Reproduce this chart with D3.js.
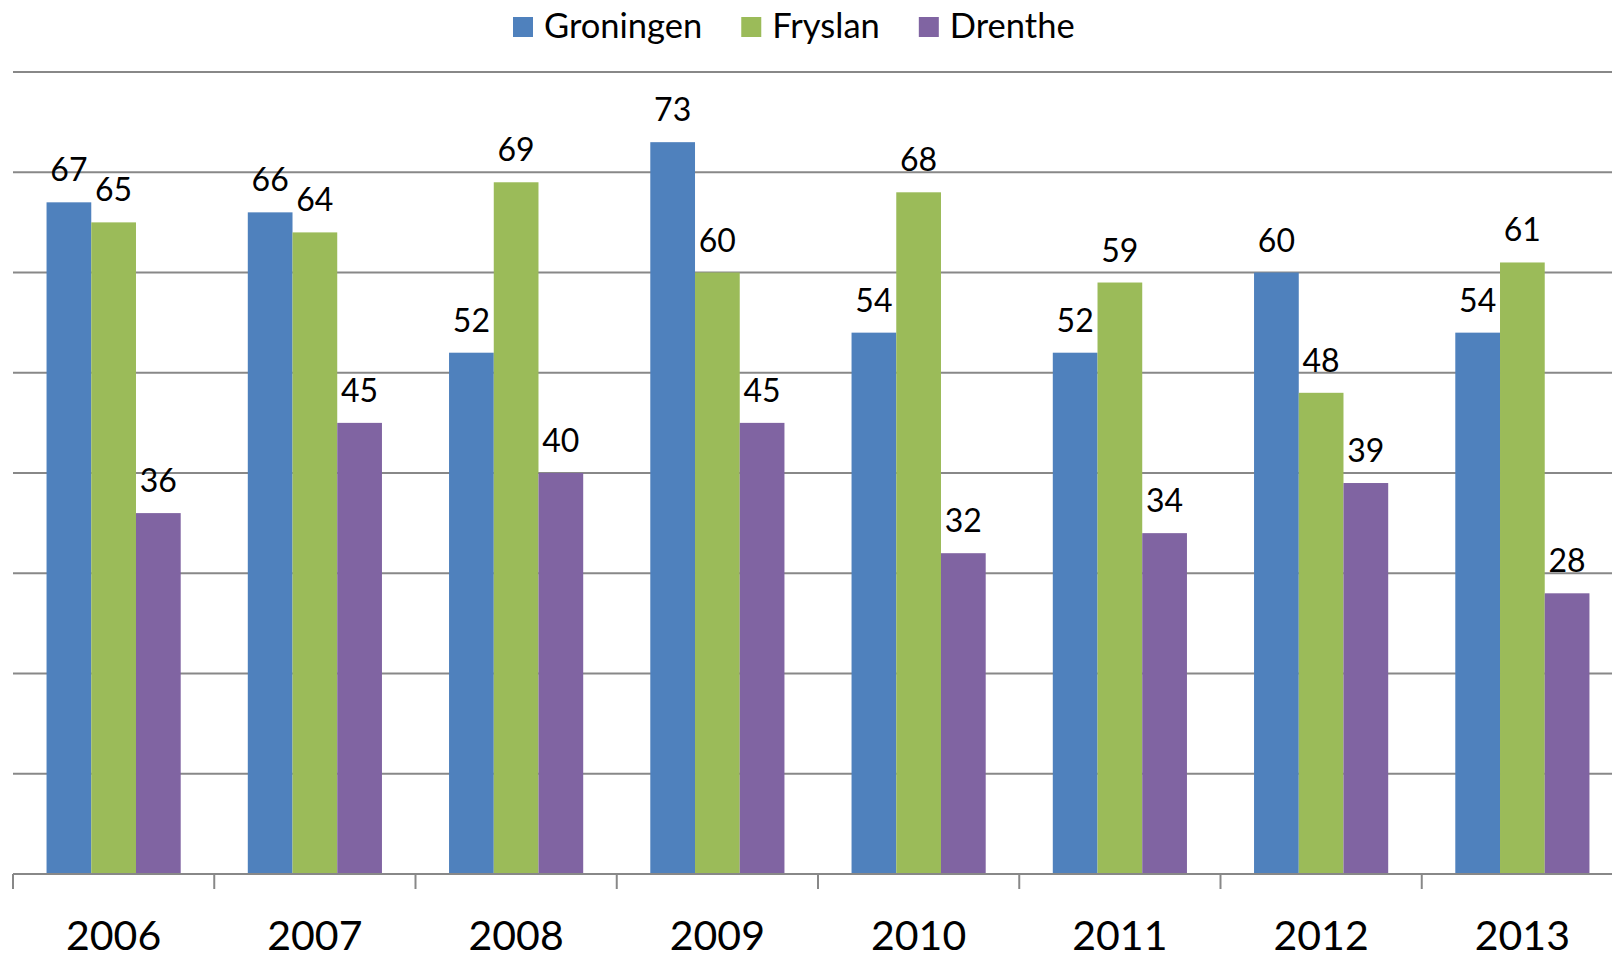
<!DOCTYPE html>
<html>
<head>
<meta charset="utf-8">
<script src="https://cdn.jsdelivr.net/npm/d3@7"></script>
<style>
  body { margin: 0; background: #fff; }
  text { font-family: Lato, "Open Sans", sans-serif; fill: #000; }
</style>
</head>
<body>
<script>
// chart data
const years = ["2006", "2007", "2008", "2009", "2010", "2011", "2012", "2013"];
const series = ["Groningen", "Fryslan", "Drenthe"];
const groningen = [67, 66, 52, 73, 54, 52, 60, 54];
const fryslan = [65, 64, 69, 60, 68, 59, 48, 61];
const drenthe = [36, 45, 40, 45, 32, 34, 39, 28];
const yTicks = [10, 20, 30, 40, 50, 60, 70, 80];

const colors = ["#4f81bd", "#9bbb59", "#8064a2"];
const values = [groningen, fryslan, drenthe];

const W = 1612, H = 956;
// plot area runs a bit past the right edge, like the original
const plotLeft = 13, plotRight = 1623, plotTop = 72, plotBottom = 874;

const svg = d3.select("body").append("svg")
    .attr("width", W)
    .attr("height", H);

const x0 = d3.scaleBand().domain(years).range([plotLeft, plotRight]).padding(0);
const x1 = d3.scaleBand().domain(series).range([0, x0.bandwidth()])
    .paddingInner(0).paddingOuter(0.75);
const y = d3.scaleLinear().domain([0, 80]).range([plotBottom, plotTop]);

// gridlines
svg.append("g").selectAll("line")
    .data(yTicks)
    .enter().append("line")
    .attr("x1", plotLeft).attr("x2", W)
    .attr("y1", d => y(d)).attr("y2", d => y(d))
    .attr("stroke", "#888").attr("stroke-width", 2);

// bars
const groups = svg.append("g").selectAll("g")
    .data(years)
    .enter().append("g")
    .attr("transform", d => "translate(" + x0(d) + ",0)");

groups.selectAll("rect")
    .data((d, i) => series.map((s, j) => ({ s: s, j: j, v: values[j][i] })))
    .enter().append("rect")
    .attr("x", d => x1(d.s))
    .attr("width", x1.bandwidth())
    .attr("y", d => y(d.v))
    .attr("height", d => y(0) - y(d.v))
    .attr("fill", d => colors[d.j]);

groups.selectAll("text")
    .data((d, i) => series.map((s, j) => ({ s: s, j: j, v: values[j][i] })))
    .enter().append("text")
    .attr("x", d => x1(d.s) + x1.bandwidth() / 2)
    .attr("y", d => y(d.v) - 21)
    .attr("text-anchor", "middle")
    .style("font-size", "32px")
    .text(d => d.v);

// x axis
const ax = svg.append("g")
    .attr("transform", "translate(0," + plotBottom + ")");
ax.append("line")
    .attr("x1", plotLeft).attr("x2", W)
    .attr("stroke", "#888").attr("stroke-width", 2);
ax.selectAll("line.tk")
    .data(years)
    .enter().append("line")
    .attr("class", "tk")
    .attr("x1", d => x0(d))
    .attr("x2", d => x0(d))
    .attr("y1", 0).attr("y2", 15)
    .attr("stroke", "#888").attr("stroke-width", 2);
ax.selectAll("text.yr")
    .data(years)
    .enter().append("text")
    .attr("class", "yr")
    .attr("x", d => x0(d) + x0.bandwidth() / 2)
    .attr("y", 76)
    .attr("text-anchor", "middle")
    .style("font-size", "41px")
    .text(d => d);

// legend
const legend = svg.append("g");
let lx = 513;
series.forEach((s, j) => {
    legend.append("rect")
        .attr("x", lx).attr("y", 17)
        .attr("width", 20).attr("height", 20)
        .attr("fill", colors[j]);
    const t = legend.append("text")
        .attr("x", lx + 31).attr("y", 38)
        .style("font-size", "34.5px")
        .text(s);
    lx = lx + 31 + t.node().getComputedTextLength() + 39;
});
</script>
</body>
</html>
